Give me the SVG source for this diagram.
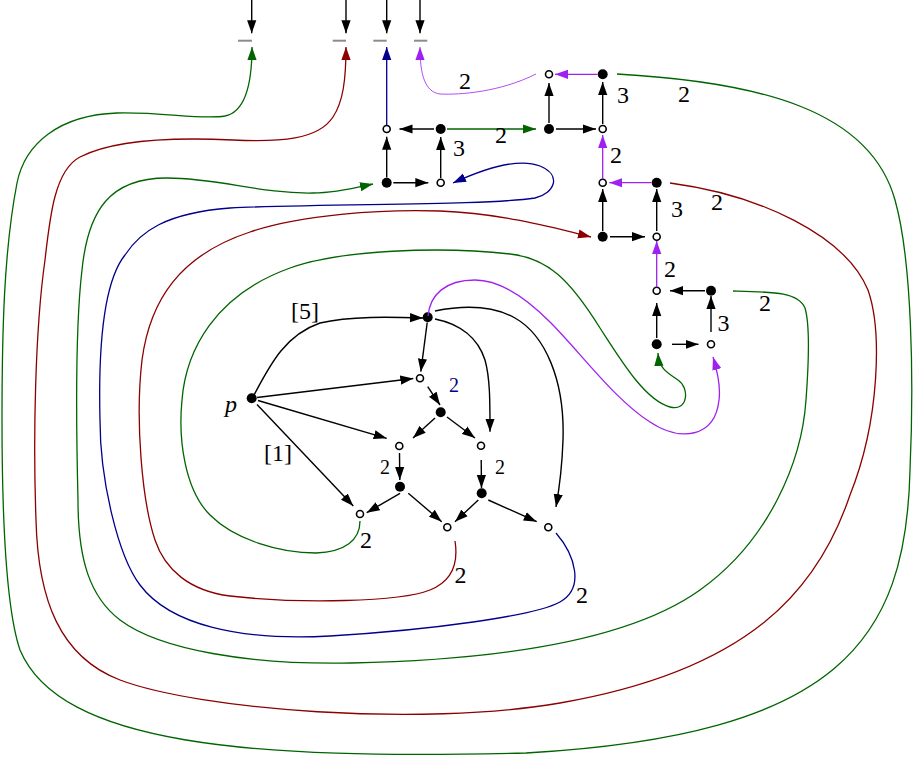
<svg xmlns="http://www.w3.org/2000/svg" width="917" height="758" viewBox="0 0 917 758">
<style>
.bg{fill:#fff}
.f{fill:#000}
.o{fill:#fff;stroke:#000;stroke-width:1.6}
.kk{fill:none;stroke:#000;stroke-width:1.4;marker-end:url(#mk)}
.gr{fill:none;stroke:#006400;stroke-width:1.3;marker-end:url(#mg)}
.rd{fill:none;stroke:#8b0000;stroke-width:1.3;marker-end:url(#mr)}
.bl{fill:none;stroke:#00008b;stroke-width:1.3;marker-end:url(#mb)}
.pu{fill:none;stroke:#a020f0;stroke-width:1.3;marker-end:url(#mp)}
.pt{fill:none;stroke:#a020f0;stroke-width:0.8;marker-end:url(#mp)}
.bar{stroke:#8c8c8c;stroke-width:2}
.t{font-family:Liberation Serif, Times New Roman, serif;font-size:24px;text-anchor:middle;fill:#000}
.ts{font-family:Liberation Serif, Times New Roman, serif;font-size:20px;text-anchor:middle;fill:#000}
</style>
<defs>
<marker id="mk" markerUnits="userSpaceOnUse" markerWidth="14" markerHeight="10" viewBox="0 -5 14 10" refX="13" refY="0" orient="auto"><path d="M0,-4.6 L13,0 L0,4.6 Z" fill="#000"/></marker>
<marker id="mg" markerUnits="userSpaceOnUse" markerWidth="14" markerHeight="10" viewBox="0 -5 14 10" refX="13" refY="0" orient="auto"><path d="M0,-4.6 L13,0 L0,4.6 Z" fill="#006400"/></marker>
<marker id="mr" markerUnits="userSpaceOnUse" markerWidth="14" markerHeight="10" viewBox="0 -5 14 10" refX="13" refY="0" orient="auto"><path d="M0,-4.6 L13,0 L0,4.6 Z" fill="#8b0000"/></marker>
<marker id="mb" markerUnits="userSpaceOnUse" markerWidth="14" markerHeight="10" viewBox="0 -5 14 10" refX="13" refY="0" orient="auto"><path d="M0,-4.6 L13,0 L0,4.6 Z" fill="#00008b"/></marker>
<marker id="mp" markerUnits="userSpaceOnUse" markerWidth="14" markerHeight="10" viewBox="0 -5 14 10" refX="13" refY="0" orient="auto"><path d="M0,-4.6 L13,0 L0,4.6 Z" fill="#a020f0"/></marker>
</defs>
<rect class="bg" x="0" y="0" width="917" height="758"/>

<g id="terminals">
<g id="t1"><line class="bar" x1="238" y1="40.7" x2="252" y2="40.7"/></g>
<g id="t2"><line class="bar" x1="332.7" y1="40.7" x2="346" y2="40.7"/></g>
<g id="t3"><line class="bar" x1="373.3" y1="40.7" x2="386.7" y2="40.7"/></g>
<g id="t4"><line class="bar" x1="414" y1="40.7" x2="427.3" y2="40.7"/></g>
</g>

<g id="n1"><circle class="o" cx="386.7" cy="129" r="3.5"/></g>
<g id="n2"><circle class="f" cx="440.7" cy="129" r="5"/></g>
<g id="n3"><circle class="f" cx="386.7" cy="182.7" r="5"/></g>
<g id="n4"><circle class="o" cx="440.7" cy="182.7" r="3.5"/></g>
<g id="n5"><circle class="o" cx="549" cy="74.3" r="3.5"/></g>
<g id="n6"><circle class="f" cx="602.7" cy="74.3" r="5"/></g>
<g id="n7"><circle class="f" cx="549" cy="129" r="5"/></g>
<g id="n8"><circle class="o" cx="602.7" cy="129" r="3.5"/></g>
<g id="n9"><circle class="o" cx="602.7" cy="182.7" r="3.5"/></g>
<g id="n10"><circle class="f" cx="656.7" cy="182.7" r="5"/></g>
<g id="n11"><circle class="f" cx="602.7" cy="236.7" r="5"/></g>
<g id="n12"><circle class="o" cx="656.7" cy="236.7" r="3.5"/></g>
<g id="n13"><circle class="o" cx="656.7" cy="290.7" r="3.5"/></g>
<g id="n14"><circle class="f" cx="711" cy="290.7" r="5"/></g>
<g id="n15"><circle class="f" cx="656.7" cy="344.3" r="5"/></g>
<g id="n16"><circle class="o" cx="711" cy="344.3" r="3.5"/></g>

<g id="np"><circle class="f" cx="251.7" cy="398.3" r="5"/></g>
<g id="na"><circle class="f" cx="427.7" cy="317.3" r="5"/></g>
<g id="nb"><circle class="o" cx="420" cy="378.3" r="3.5"/></g>
<g id="nc"><circle class="f" cx="440.7" cy="412.3" r="5"/></g>
<g id="nd"><circle class="o" cx="399.3" cy="446" r="3.5"/></g>
<g id="ne"><circle class="o" cx="481" cy="445.7" r="3.5"/></g>
<g id="nf"><circle class="f" cx="400" cy="486.7" r="5"/></g>
<g id="ng"><circle class="f" cx="481.7" cy="493.3" r="5"/></g>
<g id="nh"><circle class="o" cx="360" cy="514" r="3.5"/></g>
<g id="ni"><circle class="o" cx="447.3" cy="527.3" r="3.5"/></g>
<g id="nj"><circle class="o" cx="548.3" cy="527.3" r="3.5"/></g>

<g id="connectors">
<path class="kk" d="M251.7,0 L251.7,33.3"/>
<path class="kk" d="M346,0 L346,33.3"/>
<path class="kk" d="M386.7,0 L386.7,33.3"/>
<path class="kk" d="M420,0 L420,33.3"/>
<path class="kk" d="M434,129 L399.5,129"/>
<path class="kk" d="M386.7,177.5 L386.7,136.7"/>
<path class="kk" d="M393.3,182.7 L428.3,182.7"/>
<path class="kk" d="M440.7,178 L440.7,137"/>
<path class="gr" d="M447,129 L536,129"/>
<path class="bl" d="M386.7,125.3 L386.7,47"/>
<path class="pu" d="M597.5,74.3 L555,74.3"/>
<path class="kk" d="M549,123 L549,83"/>
<path class="kk" d="M556,129 L596,129"/>
<path class="kk" d="M602.7,124 L602.7,82"/>
<path class="pt" d="M536,74 C500,92 460,95 440,94 C425,92 420,75 420,47"/>
<path class="pu" d="M602.7,179.2 L602.7,135"/>
<path class="pu" d="M651.5,182.7 L609.3,182.7"/>
<path class="kk" d="M602.7,231 L602.7,189"/>
<path class="kk" d="M610,236.7 L645,236.7"/>
<path class="kk" d="M656.7,231 L656.7,189"/>
<path class="pu" d="M656.7,287.2 L656.7,241"/>
<path class="kk" d="M705,290.7 L670,290.7"/>
<path class="kk" d="M656.7,338 L656.7,303"/>
<path class="kk" d="M672,344.3 L698.5,344.3"/>
<path class="kk" d="M711,332 L711,296"/>
<path class="kk" d="M254,395 C270,365 285,335 320,323 C350,316 390,317 423,318"/>
<path class="kk" d="M257,397.5 L413.3,378.5"/>
<path class="kk" d="M258,400.5 L386.7,438.3"/>
<path class="kk" d="M257,404.5 L353.3,506"/>
<path class="kk" d="M427.2,322.5 L420.8,371.7"/>
<path class="kk" d="M435,319 C460,324 478,338 485,360 C490,378 490,400 490,431.7"/>
<path class="kk" d="M435,311 C460,306 490,304 515,318 C545,335 565,380 563,440 C562,470 559,490 556,507"/>
<path class="kk" d="M427.7,386.7 L440,405"/>
<path class="kk" d="M435,418 L413,438"/>
<path class="kk" d="M447,417 L475,438"/>
<path class="kk" d="M399.5,453 L399.8,480"/>
<path class="kk" d="M481.2,460 L481.5,488"/>
<path class="kk" d="M400,493.3 L366.7,512.7"/>
<path class="kk" d="M408.3,493.3 L441.7,521.7"/>
<path class="kk" d="M478.3,500 L455,521.7"/>
<path class="kk" d="M488.3,500 L536.7,521.7"/>
<path class="gr" d="M617,74 C760,82 870,110 895,200 C912,260 914,380 910,470 C906,640 840,735 526,753 C250,760 60,745 20,650 C3,600 2,480 2,420 C2,330 4,250 17,183 C25,143 60,115 117,113 C165,112 200,120 225,116 C245,112 252,85 252,47"/>
<path class="rd" d="M670,183 C760,195 845,235 868,290 C882,330 880,420 850,495 C818,590 750,670 560,703 C420,727 200,710 120,680 C60,657 38,600 36,520 C33,440 35,330 45,260 C50,215 55,170 80,157 C105,144 150,136 233,140 C280,142 318,140 333,117 C343,102 346,80 346,47"/>
<path class="gr" d="M733,291 C775,292 798,292 805,308 C810,325 809,360 806,400 C802,460 770,540 700,590 C630,640 500,660 351,663 C250,665 160,650 120,620 C90,597 78,560 78,500 C76,420 76,320 82,270 C88,210 110,178 167,178 C220,178 260,194 313,193 C335,193 355,188 373,184"/>
<path class="bl" d="M556,533 C575,555 585,588 560,602 C535,616 430,630 330,636 C240,641 170,625 140,585 C118,556 100,480 100,420 C98,340 105,280 125,255 C140,232 165,213 230,208 C330,203 480,206 535,198 C555,193 562,175 540,166 C520,158 490,166 453,183"/>
<path class="rd" d="M455,541 C458,560 455,580 430,590 C400,602 300,604 230,596 C190,591 165,570 155,540 C142,501 135,420 142,360 C150,300 180,255 250,232 C300,215 380,209 440,211 C500,213 555,228 591,237"/>
<path class="gr" d="M360,521 C360,540 345,552 316,553 C280,553 235,540 210,515 C185,490 178,440 182,400 C186,350 215,295 290,268 C340,250 440,246 510,254 C548,258 570,280 600,328 C622,362 645,400 670,407 C688,412 690,388 678,380 C666,372 659,368 658,353"/>
<path class="pu" d="M428,316 C430,295 445,280 475,280 C500,280 525,297 550,322 C580,352 615,400 650,422 C680,442 715,438 719,400 C721,385 717,370 713,357"/>
</g>

<g id="labels">
<text class="t" x="465" y="88.5">2</text>
<text class="t" x="623" y="102.5">3</text>
<text class="t" x="684" y="101.7">2</text>
<text class="t" x="459" y="156">3</text>
<text class="t" x="501" y="143">2</text>
<text class="t" x="616" y="163">2</text>
<text class="t" x="677" y="217">3</text>
<text class="t" x="717" y="210">2</text>
<text class="t" x="670" y="277">2</text>
<text class="t" x="765" y="310.7">2</text>
<text class="t" x="723.5" y="330.7">3</text>
<text class="t" x="305" y="319">[5]</text>
<text class="t" x="278" y="461">[1]</text>
<text class="t" x="231" y="412" font-style="italic">p</text>
<text class="ts" x="454" y="392" style="fill:#00008b">2</text>
<text class="ts" x="385" y="474.3">2</text>
<text class="ts" x="500" y="474.3">2</text>
<text class="t" x="366" y="548">2</text>
<text class="t" x="460.5" y="582.7">2</text>
<text class="t" x="582" y="602.7">2</text>
</g>
</svg>
